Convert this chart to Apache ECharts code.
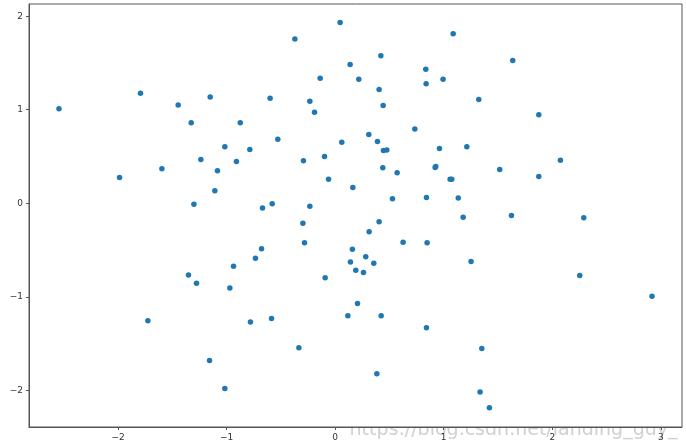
<!DOCTYPE html>
<html>
<head>
<meta charset="utf-8">
<script src="https://cdn.jsdelivr.net/npm/echarts@6/dist/echarts.min.js"></script>
<style>
  html, body { margin: 0; padding: 0; background: #fff; }
  #chart { width: 686px; height: 448px; }
</style>
</head>
<body>
<div id="chart"></div>
<script>
// values (column a, column b)
const aValues = [
  -2.544, -1.793, -1.446, -1.151, -1.326, -0.874, -1.016, -1.237, -0.909, -1.084,
  -1.596, -1.986, -1.108, -1.301, 0.046, -0.371, 1.087, 0.421, 0.138, 0.835,
  -0.138, 0.218, 0.838, 0.994, 0.405, -0.599, -0.233, 0.442, -0.190, 0.734,
  0.310, 0.390, 0.061, -0.528, -0.786, 0.445, 0.476, 0.961, -0.292, -0.098,
  0.921, 0.927, 0.439, 0.571, 1.059, 1.074, -0.061, 0.163, 0.528, 0.841,
  1.134, -0.669, -0.580, -0.233, 1.636, 1.323, 1.876, 1.213, 2.075, 1.516,
  1.876, 1.179, 1.624, 2.290, -0.936, -1.351, -1.277, -0.970, -1.725, -1.157,
  -1.016, -0.297, -0.282, 0.405, 0.313, 0.626, 0.847, -0.678, -0.734, 0.159,
  0.141, 0.282, 0.356, 0.190, 0.261, -0.092, 0.206, 0.117, 0.424, -0.780,
  -0.586, 0.841, -0.334, 0.384, 1.252, 2.253, 2.919, 1.351, 1.335, 1.421
];
const bValues = [
  1.010, 1.177, 1.052, 1.135, 0.860, 0.860, 0.604, 0.468, 0.447, 0.347,
  0.369, 0.276, 0.134, -0.009, 1.932, 1.757, 1.811, 1.576, 1.483, 1.434,
  1.337, 1.327, 1.277, 1.327, 1.216, 1.124, 1.092, 1.045, 0.974, 0.793,
  0.735, 0.660, 0.654, 0.686, 0.575, 0.564, 0.571, 0.586, 0.454, 0.500,
  0.383, 0.393, 0.379, 0.326, 0.258, 0.258, 0.258, 0.169, 0.048, 0.062,
  0.057, -0.050, -0.005, -0.030, 1.526, 1.109, 0.946, 0.604, 0.461, 0.361,
  0.286, -0.148, -0.130, -0.155, -0.671, -0.767, -0.853, -0.906, -1.255, -1.679,
  -1.978, -0.212, -0.422, -0.198, -0.304, -0.415, -0.422, -0.486, -0.586, -0.490,
  -0.628, -0.572, -0.639, -0.714, -0.739, -0.796, -1.070, -1.202, -1.202, -1.269,
  -1.231, -1.330, -1.544, -1.822, -0.622, -0.771, -0.992, -1.551, -2.017, -2.185
];
const xTicks = [-2, -1, 0, 1, 2, 3];
const yTicks = [-2, -1, 0, 1, 2];

const points = aValues.map((a, i) => [a, bValues[i]]);
const fmt = v => String(v).replace('-', '\u2212');
const font = 'DejaVu Sans';

const chart = echarts.init(document.getElementById('chart'));
chart.setOption({
  animation: false,
  textStyle: { fontFamily: font },
  grid: {
    left: 29, right: 4, top: 4, bottom: 21,
    outerBoundsMode: 'none',
    containLabel: false,
    show: true,
    borderColor: '#555',
    borderWidth: 1,
    backgroundColor: '#fff'
  },
  xAxis: {
    type: 'value',
    min: -2.82,
    max: 3.195,
    name: 'a',
    nameLocation: 'middle',
    nameGap: 15,
    nameTextStyle: { color: '#333', fontSize: 10 },
    splitLine: { show: false },
    axisLine: { show: true, onZero: false, lineStyle: { color: '#555', width: 1 } },
    axisTick: { show: true, length: 3, inside: false, customValues: xTicks, lineStyle: { color: '#555' } },
    axisLabel: { customValues: xTicks, formatter: fmt, color: '#333', fontSize: 9, margin: 6 }
  },
  yAxis: {
    type: 'value',
    min: -2.39,
    max: 2.13,
    name: 'b',
    nameLocation: 'middle',
    nameGap: 22,
    nameRotate: 90,
    nameTextStyle: { color: '#333', fontSize: 10 },
    splitLine: { show: false },
    axisLine: { show: true, onZero: false, lineStyle: { color: '#555', width: 1 } },
    axisTick: { show: true, length: 3, inside: false, customValues: yTicks, lineStyle: { color: '#555' } },
    axisLabel: { customValues: yTicks, formatter: fmt, color: '#333', fontSize: 9, margin: 6 }
  },
  graphic: [{
    type: 'text',
    right: 8,
    bottom: 8,
    z: -1,
    style: {
      text: 'https://blog.csdn.net/landing_guy_',
      fontFamily: font,
      fontSize: 19,
      fill: 'rgba(200,200,200,0.85)',
      stroke: '#fff',
      lineWidth: 1
    }
  }],
  series: [{
    type: 'scatter',
    data: points,
    symbol: 'circle',
    symbolSize: 5.5,
    itemStyle: { color: '#1f77b4', opacity: 1 }
  }]
});
</script>
</body>
</html>
